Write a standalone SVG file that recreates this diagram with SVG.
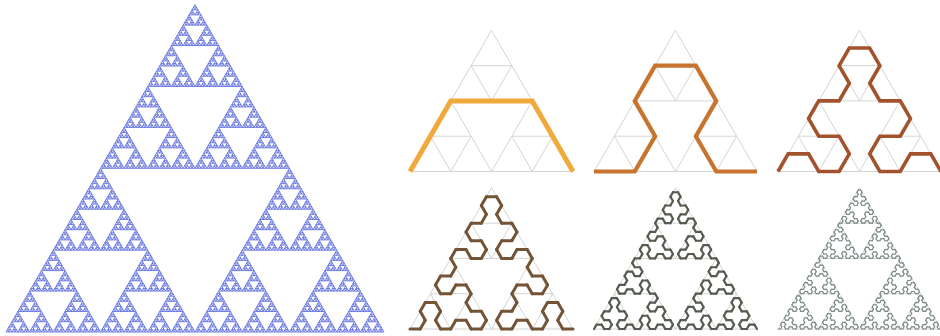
<svg xmlns="http://www.w3.org/2000/svg" xmlns:xlink="http://www.w3.org/1999/xlink" width="940" height="336" viewBox="0 0 940 336">
<style>
.sier{fill:none;stroke:#5a6ade;stroke-width:0.85}
.grid{fill:none;stroke:#cfcfcf;stroke-width:0.9}
.ns{vector-effect:non-scaling-stroke}
.seg{fill:none;stroke-linecap:round;stroke-linejoin:round}
.c1{fill:none;stroke:#f0a93a;stroke-width:5;stroke-linejoin:miter}
.c2{fill:none;stroke:#c8742f;stroke-width:4.2;stroke-linejoin:miter}
.c3{fill:none;stroke:#a2532d;stroke-width:3.6;stroke-linejoin:miter}
.c4{stroke:#735437;stroke-width:3}
.c5{stroke:#555c50;stroke-width:2.2}
.c6{stroke:#7d8c84;stroke-width:1.2}
</style>
<defs>
  <path id="t0" d="M0,0 L2.953125,0 L1.4765625,-2.55748 Z"/>
  <g id="t1"><use xlink:href="#t0"/><use xlink:href="#t0" x="2.953125"/><use xlink:href="#t0" x="1.4765625" y="-2.55748"/></g>
  <g id="t2"><use xlink:href="#t1"/><use xlink:href="#t1" x="5.90625"/><use xlink:href="#t1" x="2.953125" y="-5.11496"/></g>
  <g id="t3"><use xlink:href="#t2"/><use xlink:href="#t2" x="11.8125"/><use xlink:href="#t2" x="5.90625" y="-10.22992"/></g>
  <g id="t4"><use xlink:href="#t3"/><use xlink:href="#t3" x="23.625"/><use xlink:href="#t3" x="11.8125" y="-20.45984"/></g>
  <g id="t5"><use xlink:href="#t4"/><use xlink:href="#t4" x="47.25"/><use xlink:href="#t4" x="23.625" y="-40.91968"/></g>
  <g id="t6"><use xlink:href="#t5"/><use xlink:href="#t5" x="94.5"/><use xlink:href="#t5" x="47.25" y="-81.83936"/></g>
  <g id="t7"><use xlink:href="#t6"/><use xlink:href="#t6" x="189"/><use xlink:href="#t6" x="94.5" y="-163.67872"/></g>

  <path id="grid" class="grid ns" d="M0,0 l0.25,0 l-0.125,-0.216506 z M0.25,0 l0.25,0 l-0.125,-0.216506 z M0.125,-0.216506 l0.25,0 l-0.125,-0.216506 z M0.5,0 l0.25,0 l-0.125,-0.216506 z M0.75,0 l0.25,0 l-0.125,-0.216506 z M0.625,-0.216506 l0.25,0 l-0.125,-0.216506 z M0.25,-0.433013 l0.25,0 l-0.125,-0.216506 z M0.5,-0.433013 l0.25,0 l-0.125,-0.216506 z M0.375,-0.649519 l0.25,0 l-0.125,-0.216506 z"/>

  <line id="a0" class="ns" x1="0" y1="0" x2="1" y2="0"/>
  <g id="a1"><use xlink:href="#a0" transform="matrix(0.25,-0.4330127,-0.4330127,-0.25,0,0)"/><use xlink:href="#a0" transform="matrix(0.5,0,0,0.5,0.25,-0.4330127)"/><use xlink:href="#a0" transform="matrix(0.25,0.4330127,0.4330127,-0.25,0.75,-0.4330127)"/></g>
  <g id="a2"><use xlink:href="#a1" transform="matrix(0.25,-0.4330127,-0.4330127,-0.25,0,0)"/><use xlink:href="#a1" transform="matrix(0.5,0,0,0.5,0.25,-0.4330127)"/><use xlink:href="#a1" transform="matrix(0.25,0.4330127,0.4330127,-0.25,0.75,-0.4330127)"/></g>
  <g id="a3"><use xlink:href="#a2" transform="matrix(0.25,-0.4330127,-0.4330127,-0.25,0,0)"/><use xlink:href="#a2" transform="matrix(0.5,0,0,0.5,0.25,-0.4330127)"/><use xlink:href="#a2" transform="matrix(0.25,0.4330127,0.4330127,-0.25,0.75,-0.4330127)"/></g>
  <g id="a4"><use xlink:href="#a3" transform="matrix(0.25,-0.4330127,-0.4330127,-0.25,0,0)"/><use xlink:href="#a3" transform="matrix(0.5,0,0,0.5,0.25,-0.4330127)"/><use xlink:href="#a3" transform="matrix(0.25,0.4330127,0.4330127,-0.25,0.75,-0.4330127)"/></g>
  <g id="a5"><use xlink:href="#a4" transform="matrix(0.25,-0.4330127,-0.4330127,-0.25,0,0)"/><use xlink:href="#a4" transform="matrix(0.5,0,0,0.5,0.25,-0.4330127)"/><use xlink:href="#a4" transform="matrix(0.25,0.4330127,0.4330127,-0.25,0.75,-0.4330127)"/></g>
  <g id="a6"><use xlink:href="#a5" transform="matrix(0.25,-0.4330127,-0.4330127,-0.25,0,0)"/><use xlink:href="#a5" transform="matrix(0.5,0,0,0.5,0.25,-0.4330127)"/><use xlink:href="#a5" transform="matrix(0.25,0.4330127,0.4330127,-0.25,0.75,-0.4330127)"/></g>
</defs>

<rect width="940" height="336" fill="#ffffff"/>

<g id="sierpinski" class="sier" transform="translate(6,332)">
  <use xlink:href="#t7"/>
</g>

<g id="panel1">
  <use xlink:href="#grid" transform="translate(410,171.5) scale(163)"/>
  <path class="c1" d="M410,171.5 L450.75,100.92 L532.25,100.92 L573,171.5"/>
</g>

<g id="panel2">
  <use xlink:href="#grid" transform="translate(594,171.5) scale(163)"/>
  <path class="c2" d="M594,171.5 h40.75 l20.375,-35.29 l-20.375,-35.29 l20.375,-35.29 h40.75 l20.375,35.29 l-20.375,35.29 l20.375,35.29 h40.75"/>
</g>

<g id="panel3">
  <use xlink:href="#grid" transform="translate(778,171.5) scale(163)"/>
  <path class="c3" d="M778,171.5 l10.1875,-17.6453 h20.375 l10.1875,17.6453 h20.375 l10.1875,-17.6453 l-10.1875,-17.6453 h-20.375 l-10.1875,-17.6453 l10.1875,-17.6453 h20.375 l10.1875,-17.6453 l-10.1875,-17.6453 l10.1875,-17.6453 h20.375 l10.1875,17.6453 l-10.1875,17.6453 l10.1875,17.6453 h20.375 l10.1875,17.6453 l-10.1875,17.6453 h-20.375 l-10.1875,17.6453 l10.1875,17.6453 h20.375 l10.1875,-17.6453 h20.375 l10.1875,17.6453"/>
</g>

<g id="panel4" transform="translate(410,329) scale(163)">
  <use xlink:href="#grid"/>
  <use xlink:href="#a4" class="seg c4"/>
</g>

<g id="panel5" transform="translate(594,329) scale(163)">
  <use xlink:href="#grid"/>
  <use xlink:href="#a5" class="seg c5"/>
</g>

<g id="panel6" transform="translate(778,329) scale(163)">
  <use xlink:href="#grid"/>
  <use xlink:href="#a6" class="seg c6"/>
</g>
</svg>
